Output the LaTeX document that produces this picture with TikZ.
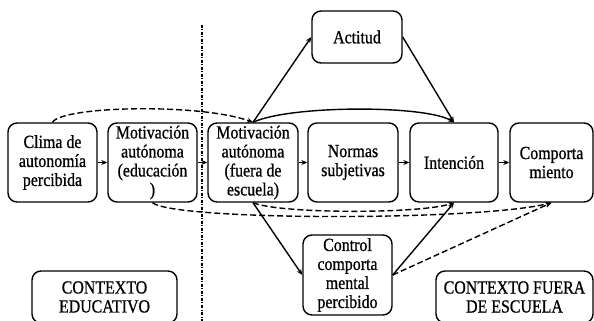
\documentclass[tikz,border=0pt]{standalone}
\usepackage{fontspec}
\setmainfont{Liberation Serif}[FakeStretch=0.86,FakeBold=0.8]
\usetikzlibrary{arrows.meta}
\begin{document}
\begin{tikzpicture}[x=1pt,y=1pt,
  box/.style={draw, line width=1.4pt, rounded corners=9pt, align=center, inner sep=1pt,
    font=\fontsize{18.5}{19}\selectfont},
  mainbox/.style={box, minimum height=79pt},
  arr/.style={-{Stealth[length=6pt,width=5pt]}, line width=1.4pt},
  dsh/.style={arr, dash pattern=on 6pt off 3pt},
  divider/.style={line width=1.2pt, dash pattern=on 3pt off 1.5pt on 1pt off 1.5pt}]
\useasboundingbox (0,0) rectangle (594,321);

\node[mainbox, minimum width=89pt] (clima) at (52.5,158.5) {Clima de\\autonomía\\percibida};
\node[mainbox, minimum width=89pt] (educ) at (152.5,158.5) {Motivación\\autónoma\\(educación\\)};
\node[mainbox, minimum width=90pt] (fuera) at (253,158.5) {Motivación\\autónoma\\(fuera de\\escuela)};
\node[mainbox, minimum width=90pt] (normas) at (353,158.5) {Normas\\subjetivas};
\node[mainbox, minimum width=88pt] (intencion) at (454,158.5) {Intención};
\node[mainbox, minimum width=83pt] (comp) at (551.5,158.5) {Comporta\\miento};
\node[box, minimum width=90pt, minimum height=52pt] (actitud) at (357,284) {Actitud};
\node[box, minimum width=89pt, minimum height=80pt] (control) at (347.5,46) {Control\\comporta\\mental\\percibido};
\node[box, minimum width=145pt, minimum height=52pt] (ctxedu) at (104.5,24) {CONTEXTO\\EDUCATIVO};
\node[box, minimum width=157pt, minimum height=52pt] (ctxfuera) at (514.5,24) {CONTEXTO FUERA\\DE ESCUELA};

\draw[divider] (202,296) -- (202,-5);

\draw[arr] (clima) -- (educ);
\draw[arr] (educ) -- (fuera);
\draw[arr] (fuera) -- (normas);
\draw[arr] (normas) -- (intencion);
\draw[arr] (intencion) -- (comp);

\draw[dsh] (clima.north) .. controls (62,215) and (200,218) .. (fuera.north);
\draw[arr] (fuera.north) -- (actitud.west);
\draw[arr] (fuera.north) .. controls (290,216) and (425,216) .. (intencion.north);
\draw[arr] (actitud.east) -- (intencion.north);

\draw[dsh] (educ.south) .. controls (175,100) and (480,100) .. (comp.south);
\draw[dsh] (fuera.south) .. controls (280,107) and (420,107) .. (intencion.south);
\draw[arr] (fuera.south) -- (control.west);
\draw[arr] (control.east) -- (intencion.south);
\draw[dsh] (control.east) -- (comp.south);
\end{tikzpicture}
\end{document}
